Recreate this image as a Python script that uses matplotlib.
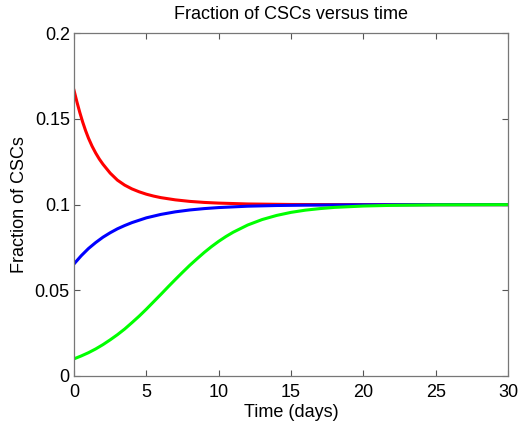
import numpy as np
import matplotlib
matplotlib.use('Agg')
import matplotlib.pyplot as plt

plt.rcParams['font.family'] = ['Liberation Sans', 'DejaVu Sans']

# values
t_red = [0, 0.2, 0.4, 0.6, 0.8, 1, 1.25, 1.5, 1.75, 2, 2.5, 3, 3.5, 4, 4.5, 5, 5.5, 6, 7, 8, 9,
         10, 12, 15, 20, 30]
frac_red = [0.1667, 0.1600, 0.1538, 0.1482, 0.1432, 0.1388, 0.1341, 0.1301, 0.1266, 0.1236,
            0.1184, 0.1143, 0.1114, 0.1092, 0.1075, 0.1061, 0.1050, 0.1041, 0.1028, 0.1019,
            0.1013, 0.1009, 0.1004, 0.1001, 0.1000, 0.1000]

t_blue = [0, 0.5, 1, 1.5, 2, 2.5, 3, 3.5, 4, 5, 6, 7, 8, 9, 10, 12, 14, 16, 18, 20, 25, 30]
frac_blue = [0.0654, 0.0702, 0.0744, 0.0779, 0.0810, 0.0836, 0.0859, 0.0878, 0.0895, 0.0923,
             0.0943, 0.0958, 0.0969, 0.0977, 0.0983, 0.0991, 0.0995, 0.0997, 0.0998, 0.0999,
             0.1000, 0.1000]

t_green = [0, 0.5, 1, 1.5, 2, 2.5, 3, 3.5, 4, 4.5, 5, 5.5, 6, 6.5, 7, 7.5, 8, 8.5, 9, 9.5,
           10, 10.5, 11, 12, 13, 14, 15, 16, 17, 18, 20, 22, 25, 30]
frac_green = [0.0100, 0.0117, 0.0136, 0.0158, 0.0183, 0.0211, 0.0241, 0.0274, 0.0311, 0.0349,
              0.0390, 0.0433, 0.0476, 0.0520, 0.0563, 0.0605, 0.0646, 0.0684, 0.0721, 0.0755,
              0.0786, 0.0814, 0.0839, 0.0881, 0.0913, 0.0937, 0.0955, 0.0968, 0.0977, 0.0984,
              0.0992, 0.0996, 0.0999, 0.1000]

x_ticks = [0, 5, 10, 15, 20, 25, 30]
y_ticks = [0, 0.05, 0.1, 0.15, 0.2]
y_tick_labels = ['0', '0.05', '0.1', '0.15', '0.2']

fig = plt.figure(figsize=(5.19, 4.26), dpi=100)
ax = fig.add_axes([0.1426, 0.1174, 0.8364, 0.8044])

ax.plot(t_red, frac_red, color='#ff0000', lw=2.2, solid_joinstyle='round')
ax.plot(t_blue, frac_blue, color='#0000ff', lw=2.2, solid_joinstyle='round')
ax.plot(t_green, frac_green, color='#00ff00', lw=2.2, solid_joinstyle='round')

ax.set_xlim(0, 30)
ax.set_ylim(0, 0.2)
ax.set_xticks(x_ticks)
ax.set_yticks(y_ticks)
ax.set_yticklabels(y_tick_labels)
ax.tick_params(direction='in', length=4, width=0.8, top=True, right=True,
               labelsize=13, colors='#555555', labelcolor='black')
ax.tick_params(axis='x', pad=6)
ax.tick_params(axis='y', pad=3)
for s in ax.spines.values():
    s.set_color('#777777')
    s.set_linewidth(0.9)

ax.set_title('Fraction of CSCs versus time', fontsize=13, pad=10)
ax.set_xlabel('Time (days)', fontsize=13, labelpad=2)
ax.set_ylabel('Fraction of CSCs', fontsize=13, labelpad=5)

fig.savefig('out.png', dpi=100)
